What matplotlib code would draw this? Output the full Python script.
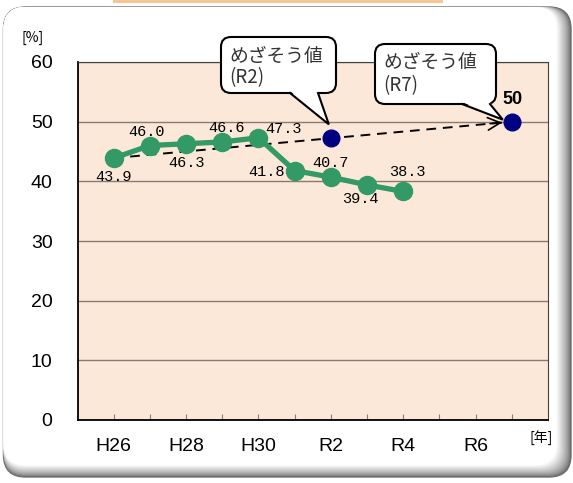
import numpy as np
import matplotlib
matplotlib.use('Agg')
import matplotlib.pyplot as plt
from matplotlib import font_manager
from matplotlib.patches import FancyBboxPatch, Polygon, Rectangle

# data
years = ['H26', 'H27', 'H28', 'H29', 'H30', 'R1', 'R2', 'R3', 'R4', 'R5', 'R6', 'R7']
rates = [43.9, 46.0, 46.3, 46.6, 47.3, 41.8, 40.7, 39.4, 38.3]
target_years = ['R2', 'R7']
target_vals = [47.2, 50]
tick_labels = ['H26', '', 'H28', '', 'H30', '', 'R2', '', 'R4', '', 'R6', '']
# label offsets in pixels (dx, dy)
label_offsets = [(0, -19), (-3, 14), (0, -19), (4, 14), (25, 9),
                 (-28, -1), (0, 14), (-7, -14), (4, 19)]

names = {f.name for f in font_manager.fontManager.ttflist}
narrow = 'Liberation Sans Narrow' if 'Liberation Sans Narrow' in names else 'Liberation Sans'
jp = ['Noto Sans CJK JP', 'DejaVu Sans']

W, H = 573, 483
fig = plt.figure(figsize=(W / 100, H / 100), dpi=100)
fig.patch.set_facecolor('white')

# background frame (pixel coords)
bg = fig.add_axes([0, 0, 1, 1], zorder=-1)
bg.set_xlim(0, W)
bg.set_ylim(H, 0)
bg.axis('off')
bg.add_patch(Rectangle((113, -2), 330, 5, fc='#F9C594', ec='none'))
n = 14
for i in range(n):
    t = i / (n - 1)
    g = 0.42 + 0.58 * t ** 0.7
    x1 = 571 - i * 1.1
    y1 = 477 - i * 0.9
    bg.add_patch(FancyBboxPatch((3.5, 7), x1 - 3.5, y1 - 7,
                                boxstyle='round,pad=0,rounding_size=22',
                                fc=(g, g, g), ec='#707070' if i == 0 else 'none', lw=1))

# main chart
ax = fig.add_axes([77.5 / W, 1 - 420 / H, (548 - 77.5) / W, (420 - 62) / H])
ax.set_facecolor('#FCE8D8')
x = np.arange(1, len(rates) + 1)
xt = [years.index(y) + 1 for y in target_years]

ax.set_xlim(0, 13)
ax.set_ylim(0, 60)
ax.set_yticks(range(0, 61, 10))
ax.yaxis.grid(True, color='#8a7a70', lw=1)
ax.set_axisbelow(True)
ax.tick_params(axis='y', length=0, pad=18, labelsize=14)
for lab in ax.get_yticklabels():
    lab.set_family('Liberation Sans')
ax.set_xticks(range(1, 13))
ax.set_xticklabels(tick_labels, family=narrow, fontsize=14)
ax.tick_params(axis='x', direction='in', length=4, color='#808080', pad=13)
ax.spines['left'].set_color('black')
ax.spines['bottom'].set_color('black')
ax.spines['left'].set_linewidth(1.3)
ax.spines['bottom'].set_linewidth(1.3)
ax.spines['top'].set_color('#404040')
ax.spines['right'].set_color('#404040')
ax.spines['top'].set_linewidth(0.8)
ax.spines['right'].set_linewidth(0.8)

# dashed trend to target
ax.plot([x[0], xt[1]], [rates[0], target_vals[1]], '--', color='black', lw=1.4,
        dashes=(5, 3.5), zorder=3)
ax.annotate('', xy=(xt[1], target_vals[1]),
            xytext=(xt[1] - 0.6, target_vals[1] - 0.6 * (target_vals[1] - rates[0]) / (xt[1] - x[0])),
            arrowprops=dict(arrowstyle='->,head_length=0.9,head_width=0.45', color='black',
                            lw=1.2, shrinkA=0, shrinkB=7), zorder=3)

ax.plot(x, rates, '-o', color='#339966', lw=3.8, markersize=13, zorder=4)
ax.plot(xt, target_vals, 'o', color='#000080', markersize=12, zorder=5, ls='none')

for xi, v, (dx, dy) in zip(x, rates, label_offsets):
    ax.annotate(f'{v:.1f}', (xi, v), xytext=(dx, dy), textcoords='offset pixels',
                ha='center', va='center', fontsize=11, family='Liberation Mono', zorder=6)
ax.annotate(f'{target_vals[1]:g}', (xt[1], target_vals[1]), xytext=(1, 22),
            textcoords='offset pixels', ha='center', va='center', fontsize=13,
            fontweight='bold', family='Liberation Sans', zorder=6)

# overlay for callouts
ov = fig.add_axes([0, 0, 1, 1], zorder=5)
ov.set_xlim(0, W)
ov.set_ylim(H, 0)
ov.axis('off')
ov.patch.set_alpha(0)

def to_px(xv, yv):
    dx, dy = ax.transData.transform((xv, yv))
    return dx, H - dy

def callout(box, base, tip, lines):
    bx0, by0, bx1, by1 = box
    ov.add_patch(FancyBboxPatch((bx0, by0), bx1 - bx0, by1 - by0,
                                boxstyle='round,pad=0,rounding_size=10',
                                fc='white', ec='black', lw=1.5))
    (ax0, ay0), (ax1, ay1) = base
    ov.add_patch(Polygon([(ax0, ay0 - 2), tip, (ax1, ay1 - 2)], closed=True,
                         fc='white', ec='none'))
    ov.plot([ax0, tip[0], ax1], [ay0, tip[1], ay1], color='black', lw=1.5,
            solid_joinstyle='miter')
    for (tx, ty, s) in lines:
        ov.text(tx, ty, s, ha='left', va='center', fontsize=13.5, family=jp,
                color='#333333')

px, py = to_px(xt[0], target_vals[0])
callout((221, 37, 336, 93), ((290, 93), (318, 93)), (px - 2, py - 14),
        [(229, 56, 'めざそう値'), (229, 78, '(R2)')])
px, py = to_px(xt[1], target_vals[1])
callout((375, 44, 496, 104), ((462, 104), (490, 104)), (px - 9, py - 2),
        [(383, 62, 'めざそう値'), (383, 86, '(R7)')])

ov.text(33, 38, '[%]', ha='center', va='center', fontsize=10, family=jp)
ov.text(541, 438, '[年]', ha='center', va='center', fontsize=10, family=jp)

fig.savefig('out.png', dpi=100)
